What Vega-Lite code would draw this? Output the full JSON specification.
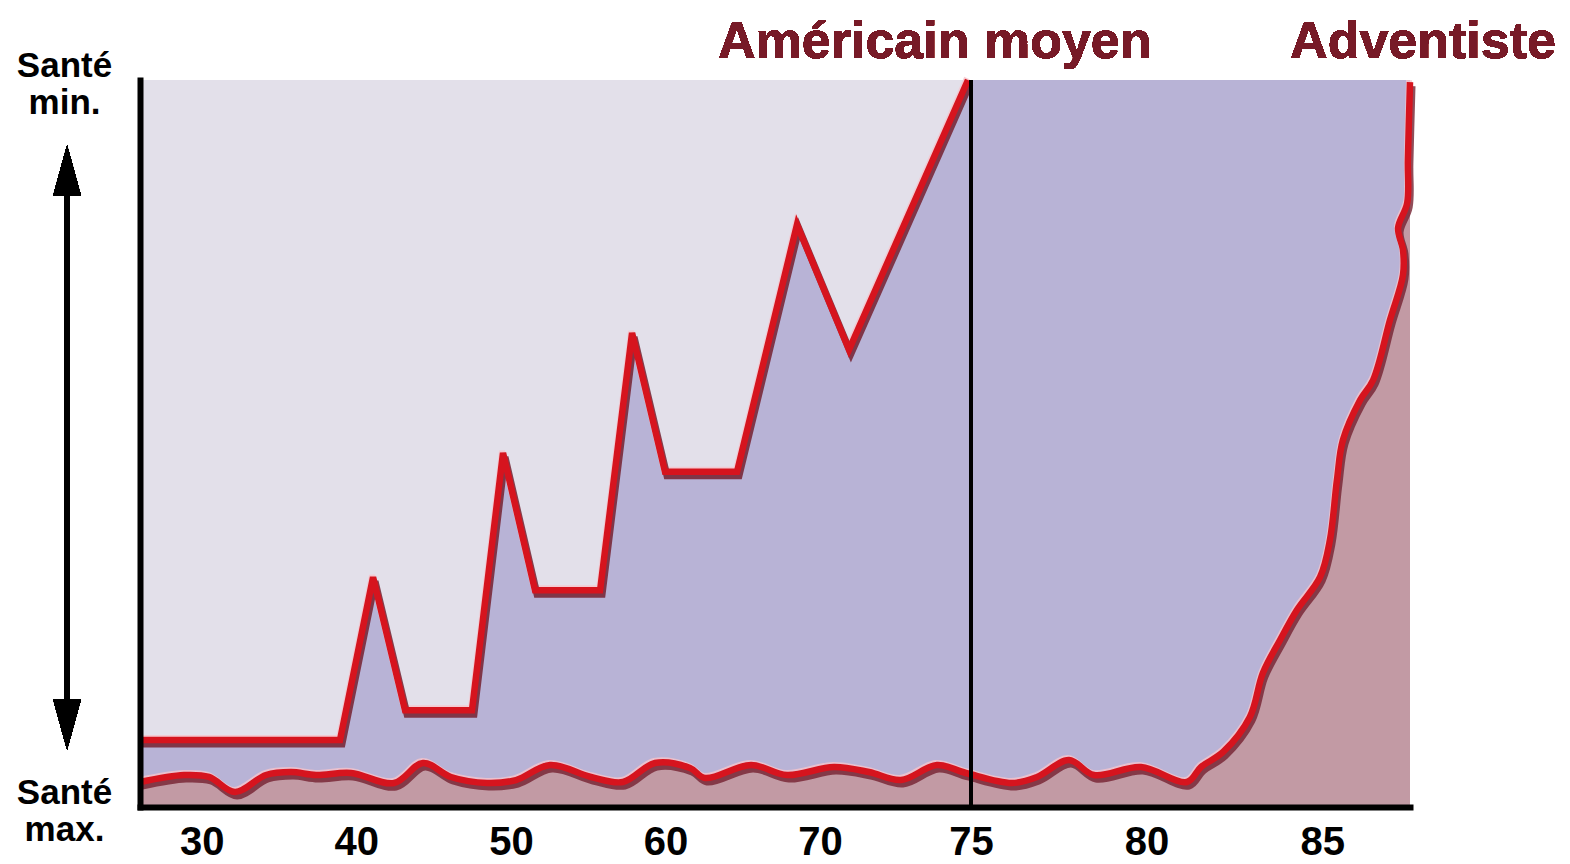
{
  "$schema": "https://vega.github.io/schema/vega-lite/v6.json",
  "width": 1270,
  "height": 727,
  "autosize": {"type": "none"},
  "padding": {"left": 140, "top": 80, "right": 160, "bottom": 57},
  "background": "white",
  "config": {
    "view": {"fill": "#b8b3d6", "stroke": null},
    "font": "Liberation Sans"
  },
  "data": {
    "values": [
      {"s": "Américain moyen", "age": 26.0, "h": 9.2},
      {"s": "Américain moyen", "age": 38.94, "h": 9.2},
      {"s": "Américain moyen", "age": 41.08, "h": 31.6},
      {"s": "Américain moyen", "age": 43.15, "h": 13.3},
      {"s": "Américain moyen", "age": 47.48, "h": 13.3},
      {"s": "Américain moyen", "age": 49.49, "h": 48.7},
      {"s": "Américain moyen", "age": 51.56, "h": 29.8},
      {"s": "Américain moyen", "age": 55.77, "h": 29.8},
      {"s": "Américain moyen", "age": 57.84, "h": 65.2},
      {"s": "Américain moyen", "age": 59.97, "h": 46.1},
      {"s": "Américain moyen", "age": 64.63, "h": 46.1},
      {"s": "Américain moyen", "age": 68.51, "h": 80.1},
      {"s": "Américain moyen", "age": 70.96, "h": 62.9},
      {"s": "Américain moyen", "age": 74.9, "h": 100},
      {"s": "Adventiste", "age": 26.0, "h": 3.44},
      {"s": "Adventiste", "age": 28.85, "h": 4.4},
      {"s": "Adventiste", "age": 30.46, "h": 4.13},
      {"s": "Adventiste", "age": 32.15, "h": 2.06},
      {"s": "Adventiste", "age": 34.15, "h": 4.4},
      {"s": "Adventiste", "age": 35.77, "h": 4.81},
      {"s": "Adventiste", "age": 37.39, "h": 4.4},
      {"s": "Adventiste", "age": 39.65, "h": 4.68},
      {"s": "Adventiste", "age": 42.44, "h": 3.3},
      {"s": "Adventiste", "age": 44.31, "h": 6.05},
      {"s": "Adventiste", "age": 46.12, "h": 4.13},
      {"s": "Adventiste", "age": 48.45, "h": 3.3},
      {"s": "Adventiste", "age": 50.33, "h": 3.71},
      {"s": "Adventiste", "age": 52.53, "h": 5.78},
      {"s": "Adventiste", "age": 55.18, "h": 4.13},
      {"s": "Adventiste", "age": 57.25, "h": 3.44},
      {"s": "Adventiste", "age": 59.32, "h": 6.05},
      {"s": "Adventiste", "age": 61.59, "h": 5.36},
      {"s": "Adventiste", "age": 62.56, "h": 3.99},
      {"s": "Adventiste", "age": 65.54, "h": 5.78},
      {"s": "Adventiste", "age": 67.86, "h": 4.4},
      {"s": "Adventiste", "age": 70.46, "h": 5.5},
      {"s": "Adventiste", "age": 71.62, "h": 4.81},
      {"s": "Adventiste", "age": 72.68, "h": 3.71},
      {"s": "Adventiste", "age": 73.87, "h": 5.78},
      {"s": "Adventiste", "age": 74.83, "h": 4.68},
      {"s": "Adventiste", "age": 76.17, "h": 3.3},
      {"s": "Adventiste", "age": 76.88, "h": 4.13},
      {"s": "Adventiste", "age": 77.79, "h": 6.46},
      {"s": "Adventiste", "age": 78.5, "h": 4.4},
      {"s": "Adventiste", "age": 79.84, "h": 5.5},
      {"s": "Adventiste", "age": 81.15, "h": 3.44},
      {"s": "Adventiste", "age": 81.55, "h": 5.5},
      {"s": "Adventiste", "age": 82.18, "h": 7.57},
      {"s": "Adventiste", "age": 82.94, "h": 12.38},
      {"s": "Adventiste", "age": 83.31, "h": 18.43},
      {"s": "Adventiste", "age": 83.8, "h": 22.97},
      {"s": "Adventiste", "age": 84.28, "h": 27.1},
      {"s": "Adventiste", "age": 84.94, "h": 31.64},
      {"s": "Adventiste", "age": 85.22, "h": 36.73},
      {"s": "Adventiste", "age": 85.42, "h": 44.98},
      {"s": "Adventiste", "age": 85.59, "h": 50.48},
      {"s": "Adventiste", "age": 86.08, "h": 55.98},
      {"s": "Adventiste", "age": 86.45, "h": 58.73},
      {"s": "Adventiste", "age": 86.93, "h": 66.99},
      {"s": "Adventiste", "age": 87.3, "h": 73.18},
      {"s": "Adventiste", "age": 87.3, "h": 76.62},
      {"s": "Adventiste", "age": 87.16, "h": 79.64},
      {"s": "Adventiste", "age": 87.42, "h": 83.08},
      {"s": "Adventiste", "age": 87.44, "h": 89.0},
      {"s": "Adventiste", "age": 87.5, "h": 99.7}
    ]
  },
  "encoding": {
    "x": {
      "field": "age",
      "type": "quantitative",
      "scale": {"domain": [26, 70, 75, 87.5], "range": [0, 680, 831, 1270], "nice": false, "zero": false},
      "axis": {
        "title": null,
        "values": [30, 40, 50, 60, 70, 75, 80, 85],
        "grid": false,
        "ticks": false,
        "tickSize": 0,
        "domainColor": "black",
        "domainWidth": 6,
        "domainCap": "square",
        "labelFont": "Liberation Sans",
        "labelFontWeight": "bold",
        "labelFontSize": 40,
        "labelColor": "black",
        "labelPadding": 15,
        "labelFlush": false,
        "labelOverlap": false,
        "zindex": 1
      }
    },
    "y": {
      "field": "h",
      "type": "quantitative",
      "scale": {"domain": [0, 100], "nice": false, "zero": false},
      "axis": {
        "title": null,
        "values": [0, 100],
        "grid": false,
        "ticks": false,
        "tickSize": 0,
        "domainColor": "black",
        "domainWidth": 6,
        "domainCap": "square",
        "labelExpr": "datum.value >= 50 ? ['Santé', 'min.'] : ['Santé', 'max.']",
        "labelFont": "Liberation Sans",
        "labelFontWeight": "bold",
        "labelFontSize": 35,
        "labelLineHeight": 37,
        "labelColor": "black",
        "labelAlign": "center",
        "labelBaseline": "alphabetic",
        "labelPadding": 76,
        "labelOffset": -4,
        "labelFlush": false,
        "labelOverlap": false,
        "zindex": 1
      }
    },
    "order": {"value": null}
  },
  "layer": [
    {
      "transform": [{"filter": "datum.s === 'Américain moyen'"}],
      "mark": {"type": "area", "color": "#e3e0ea", "interpolate": "linear"},
      "encoding": {"y2": {"datum": 100}}
    },
    {
      "transform": [{"filter": "datum.s === 'Adventiste'"}],
      "mark": {"type": "area", "color": "#c29aa4", "interpolate": "catmull-rom"},
      "encoding": {"y2": {"datum": 0}}
    },
    {
      "transform": [{"filter": "datum.s === 'Américain moyen'"}],
      "mark": {"type": "line", "color": "#f6c4cc", "strokeWidth": 6, "xOffset": -1, "yOffset": -2, "strokeJoin": "miter", "opacity": 0.8},
      "encoding": {}
    },
    {
      "transform": [{"filter": "datum.s === 'Américain moyen'"}],
      "mark": {"type": "line", "color": "#74202f", "strokeWidth": 7, "xOffset": 2, "yOffset": 4, "strokeJoin": "miter", "opacity": 0.85},
      "encoding": {}
    },
    {
      "transform": [{"filter": "datum.s === 'Américain moyen'"}],
      "mark": {"type": "line", "color": "#d6141e", "strokeWidth": 6.5, "strokeJoin": "miter"},
      "encoding": {}
    },
    {
      "transform": [{"filter": "datum.s === 'Adventiste'"}],
      "mark": {"type": "line", "color": "#f6c4cc", "strokeWidth": 6, "xOffset": -1, "yOffset": -2, "interpolate": "catmull-rom", "opacity": 0.8},
      "encoding": {}
    },
    {
      "transform": [{"filter": "datum.s === 'Adventiste'"}],
      "mark": {"type": "line", "color": "#74202f", "strokeWidth": 7, "xOffset": 2, "yOffset": 4, "interpolate": "catmull-rom", "opacity": 0.8},
      "encoding": {}
    },
    {
      "transform": [{"filter": "datum.s === 'Adventiste'"}],
      "mark": {"type": "line", "color": "#d6141e", "strokeWidth": 6.5, "interpolate": "catmull-rom"},
      "encoding": {}
    },
    {
      "mark": {"type": "rule", "color": "black", "strokeWidth": 3},
      "encoding": {"x": {"datum": 75}, "y": {"datum": 0}, "y2": {"datum": 100}}
    },
    {
      "mark": {"type": "rule", "color": "black", "strokeWidth": 5},
      "encoding": {"x": {"datum": 21.28}, "y": {"datum": 87.6}, "y2": {"datum": 11.3}}
    },
    {
      "mark": {"type": "point", "filled": true, "color": "black", "opacity": 1, "size": 2500, "shape": "M0,-1L0.55,1L-0.55,1Z"},
      "encoding": {"x": {"datum": 21.28}, "y": {"datum": 87.6}}
    },
    {
      "mark": {"type": "point", "filled": true, "color": "black", "opacity": 1, "size": 2500, "shape": "M0,1L0.55,-1L-0.55,-1Z"},
      "encoding": {"x": {"datum": 21.28}, "y": {"datum": 11.3}}
    },
    {
      "mark": {"type": "text", "text": "Américain moyen", "font": "Liberation Sans", "fontWeight": "bold", "fontSize": 52, "color": "#771a27", "align": "center", "baseline": "alphabetic"},
      "encoding": {"x": {"datum": 73.8}, "y": {"datum": 103}}
    },
    {
      "mark": {"type": "text", "text": "Adventiste", "font": "Liberation Sans", "fontWeight": "bold", "fontSize": 52, "color": "#771a27", "align": "center", "baseline": "alphabetic"},
      "encoding": {"x": {"datum": 87.87}, "y": {"datum": 103}}
    }
  ]
}
